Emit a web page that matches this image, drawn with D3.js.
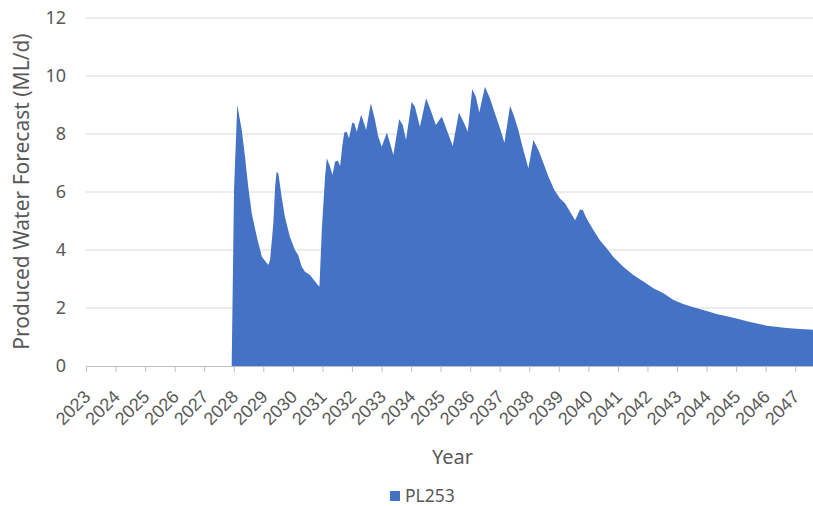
<!DOCTYPE html>
<html>
<head>
<meta charset="utf-8">
<script src="https://cdn.jsdelivr.net/npm/d3@7"></script>
<style>
  html, body { margin: 0; padding: 0; background: #fff; }
  svg { display: block; font-family: "Noto Sans", "Open Sans", sans-serif; }
</style>
</head>
<body>
<svg id="chart" width="813" height="506"></svg>
<script>
// ---- Data ----
const seriesName = "PL253";
const tickYears = [2023,2024,2025,2026,2027,2028,2029,2030,2031,2032,2033,2034,2035,2036,2037,2038,2039,2040,2041,2042,2043,2044,2045,2046,2047];
const yTicks = [0, 2, 4, 6, 8, 10, 12];
// decimal year of each read point
const times = [
  2023.00, 2027.93, 2028.01, 2028.12, 2028.27, 2028.38, 2028.49, 2028.61, 2028.78, 2028.95,
  2029.17, 2029.23, 2029.34, 2029.40, 2029.45, 2029.51, 2029.62, 2029.73, 2029.90, 2030.07,
  2030.18, 2030.30, 2030.41, 2030.58, 2030.75, 2030.90, 2030.98, 2031.09, 2031.15, 2031.26,
  2031.34, 2031.43, 2031.52, 2031.60, 2031.67, 2031.74, 2031.82, 2031.90, 2032.01, 2032.08,
  2032.16, 2032.31, 2032.41, 2032.48, 2032.64, 2032.78, 2032.89, 2033.01, 2033.18, 2033.29,
  2033.40, 2033.60, 2033.72, 2033.83, 2034.02, 2034.13, 2034.30, 2034.51, 2034.64, 2034.84,
  2035.04, 2035.21, 2035.41, 2035.62, 2035.77, 2035.92, 2036.07, 2036.19, 2036.31, 2036.50,
  2036.67, 2036.84, 2037.01, 2037.16, 2037.35, 2037.49, 2037.63, 2037.80, 2037.97, 2038.14,
  2038.31, 2038.44, 2038.65, 2038.85, 2039.04, 2039.21, 2039.38, 2039.55, 2039.72, 2039.81,
  2039.94, 2040.17, 2040.39, 2040.62, 2040.84, 2041.18, 2041.52, 2041.86, 2042.20, 2042.54,
  2042.88, 2043.21, 2043.44, 2043.89, 2044.34, 2044.91, 2045.47, 2046.04, 2046.71, 2047.16,
  2047.70, 2048.00
];
// produced water forecast, ML/d
const water = [
  0.00, 0.00, 6.10, 9.00, 8.14, 7.22, 6.18, 5.26, 4.46, 3.77,
  3.48, 3.66, 4.92, 6.18, 6.70, 6.64, 5.84, 5.15, 4.46, 4.00,
  3.83, 3.42, 3.25, 3.14, 2.91, 2.73, 4.69, 6.53, 7.16, 6.87,
  6.59, 7.05, 7.08, 6.90, 7.56, 8.05, 8.08, 7.85, 8.39, 8.37,
  8.08, 8.66, 8.37, 8.14, 9.06, 8.48, 7.91, 7.56, 8.05, 7.68,
  7.28, 8.51, 8.31, 7.79, 9.11, 8.94, 8.25, 9.23, 8.89, 8.31,
  8.60, 8.14, 7.59, 8.74, 8.43, 8.08, 9.54, 9.29, 8.74, 9.63,
  9.23, 8.71, 8.20, 7.70, 8.97, 8.60, 8.14, 7.45, 6.82, 7.79,
  7.45, 7.10, 6.53, 6.07, 5.78, 5.61, 5.32, 5.03, 5.40, 5.38,
  5.09, 4.69, 4.34, 4.06, 3.77, 3.42, 3.14, 2.91, 2.68, 2.51,
  2.28, 2.14, 2.06, 1.93, 1.79, 1.66, 1.52, 1.39, 1.31, 1.28,
  1.24, 1.22
];

// ---- Layout ----
const svg = d3.select("#chart");
const W = 813, H = 506;
const plot = { left: 86, right: 86 + 25 * 29.55, top: 18, bottom: 366 };
const textColor = "#595959";
const gridColor = "#d9d9d9";
const fillColor = "#4472C4";

const x = d3.scaleLinear().domain([2023, 2048]).range([plot.left, plot.right]);
const y = d3.scaleLinear().domain([0, 12]).range([plot.bottom, plot.top]);

// gridlines
svg.append("g")
  .selectAll("line")
  .data(yTicks.filter(d => d > 0))
  .join("line")
  .attr("x1", plot.left).attr("x2", W)
  .attr("y1", d => y(d)).attr("y2", d => y(d))
  .attr("stroke", gridColor).attr("stroke-width", 1.2);

// area
const data = times.map((t, i) => ({ t, v: water[i] }));
svg.append("path")
  .datum(data)
  .attr("fill", fillColor)
  .attr("d", d3.area().x(d => x(d.t)).y0(y(0)).y1(d => y(d.v)));

// x axis
const xAxis = d3.axisBottom(x)
  .tickValues(tickYears)
  .tickFormat(d3.format("d"))
  .tickSizeInner(6).tickSizeOuter(0);
const gx = svg.append("g").attr("transform", `translate(0,${plot.bottom})`).call(xAxis);
gx.select(".domain").attr("stroke", "#bfbfbf").attr("d", `M${plot.left},0.5H${W}`);
gx.selectAll(".tick line").attr("stroke", "#bfbfbf");
gx.selectAll(".tick text")
  .attr("fill", textColor)
  .style("font-size", "18px")
  .attr("text-anchor", "end")
  .attr("dy", null)
  .attr("y", null)
  .attr("transform", "translate(5,32) rotate(-45)");

// y axis labels
const gy = svg.append("g");
gy.selectAll("text")
  .data(yTicks)
  .join("text")
  .attr("x", 66)
  .attr("y", d => y(d))
  .attr("dy", "0.35em")
  .attr("text-anchor", "end")
  .attr("fill", textColor)
  .style("font-size", "18px")
  .text(d => d);

// axis titles
svg.append("text")
  .attr("transform", `translate(29,${(25 + 358) / 2}) rotate(-90)`)
  .attr("text-anchor", "middle")
  .attr("fill", textColor)
  .style("font-size", "21px")
  .text("Produced Water Forecast (ML/d)");

svg.append("text")
  .attr("x", 452.5)
  .attr("y", 464)
  .attr("text-anchor", "middle")
  .attr("fill", textColor)
  .style("font-size", "20px")
  .text("Year");

// legend
const lg = svg.append("g");
lg.append("rect")
  .attr("x", 390).attr("y", 491).attr("width", 10).attr("height", 10)
  .attr("fill", fillColor);
lg.append("text")
  .attr("x", 405).attr("y", 502)
  .attr("fill", textColor)
  .style("font-size", "17.5px")
  .text(seriesName);
</script>
</body>
</html>
